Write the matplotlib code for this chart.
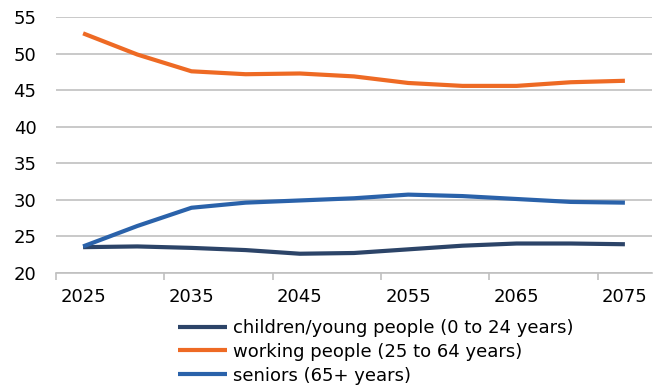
import matplotlib
matplotlib.use("Agg")
import matplotlib.pyplot as plt
import numpy as np

years = [2025, 2030, 2035, 2040, 2045, 2050, 2055, 2060, 2065, 2070, 2075]
children = [23.5, 23.6, 23.4, 23.1, 22.6, 22.7, 23.2, 23.7, 24.0, 24.0, 23.9]
working = [52.8, 49.9, 47.6, 47.2, 47.3, 46.9, 46.0, 45.6, 45.6, 46.1, 46.3]
seniors = [23.6, 26.4, 28.9, 29.6, 29.9, 30.2, 30.7, 30.5, 30.1, 29.7, 29.6]
labels = ["children/young people (0 to 24 years)",
          "working people (25 to 64 years)",
          "seniors (65+ years)"]
colors = ["#2C4468", "#EE6A24", "#2A62AA"]
yticks = [20, 25, 30, 35, 40, 45, 50, 55]

plt.rcParams['font.family'] = ['DejaVu Sans']
FS = 13
fig = plt.figure(figsize=(6.56, 3.85), dpi=100)
ax = fig.add_axes([56/656, 1-272.7/385, (652-56)/656, (272.7-17.3)/385])

x = np.arange(len(years))
for series, lab, c in zip([children, working, seniors], labels, colors):
    ax.plot(x, series, color=c, lw=3, label=lab, solid_capstyle='butt', zorder=3)

ax.set_xlim(-0.5, len(years) - 0.5)
ax.set_ylim(20, 55)
ax.set_yticks(yticks)
ax.set_yticklabels([str(v) for v in yticks], fontsize=FS)
ax.grid(axis='y', color='#C0C0C0', lw=1.2)
ax.set_axisbelow(True)
for s in ['left', 'right', 'top']:
    ax.spines[s].set_visible(False)
ax.spines['bottom'].set_color('#C0C0C0')
ax.spines['bottom'].set_linewidth(1.2)
ax.tick_params(axis='y', length=0, pad=14)

ax.set_xticks(x[::2])
ax.set_xticklabels([str(y) for y in years[::2]], fontsize=FS)
ax.tick_params(axis='x', which='major', length=0, pad=11)
ax.set_xticks(np.arange(-0.5, len(years) - 0.5, 2), minor=True)
ax.tick_params(axis='x', which='minor', length=5, color='#C0C0C0', width=1.2)

leg = fig.legend(loc='upper left', bbox_to_anchor=(178/656, 1-319/385),
                 frameon=False, fontsize=FS, handlelength=2.7,
                 handletextpad=0.35, labelspacing=0.32, borderpad=0,
                 borderaxespad=0)

fig.savefig("out.png", dpi=100)
